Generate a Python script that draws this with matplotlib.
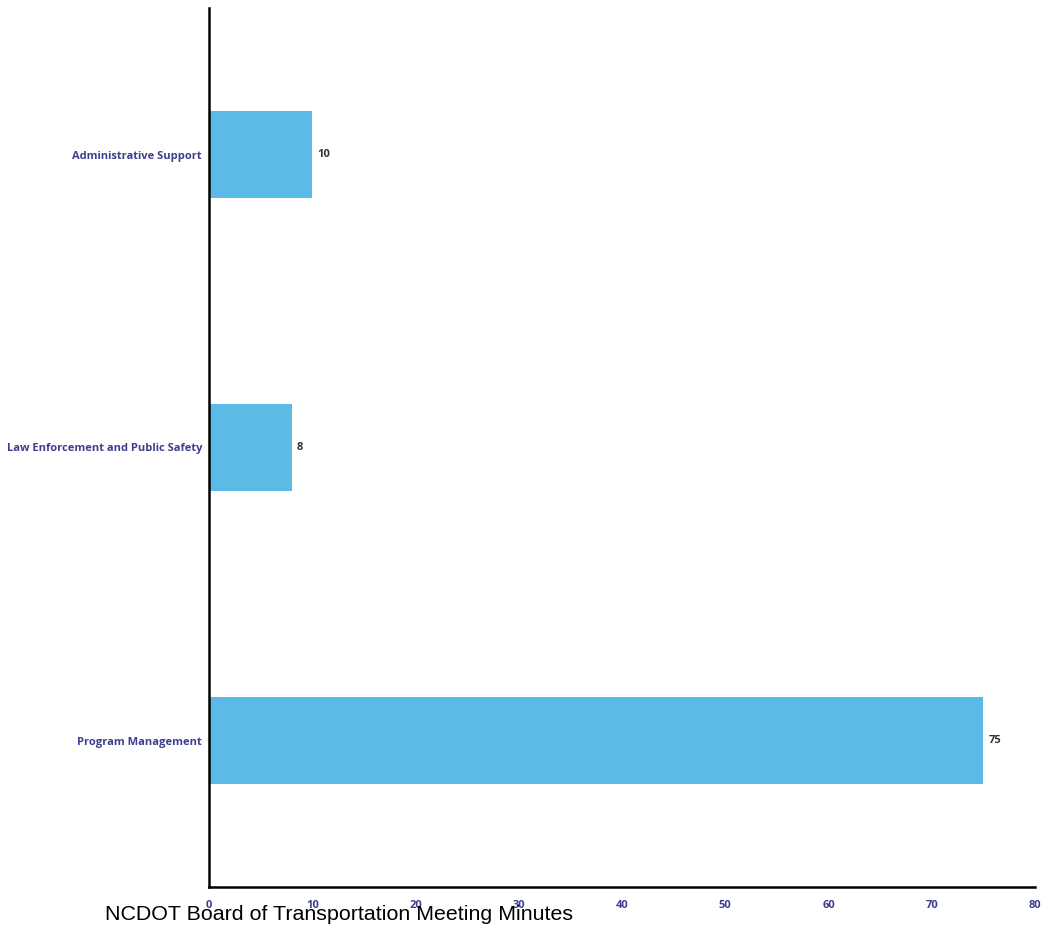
import matplotlib
matplotlib.use("Agg")
import matplotlib.pyplot as plt

# Data
categories = ["Program Management", "Law Enforcement and Public Safety", "Administrative Support"]
values = [75, 8, 10]
xticks = [0, 10, 20, 30, 40, 50, 60, 70, 80]

bar_color = "#5bbae6"
label_color = "#3e3e90"

fig = plt.figure(figsize=(10.41, 9.26), dpi=100)
ax = fig.add_axes([209 / 1041, 1 - 887 / 926, 826 / 1041, 879 / 926])

ypos = range(len(categories))
bars = ax.barh(ypos, values, height=0.3, color=bar_color)

ax.set_xlim(0, 80)
ax.set_ylim(-0.5, 2.5)
ax.set_xticks(xticks)
ax.set_yticks(list(ypos))
ax.set_yticklabels(categories)

for lab in ax.get_xticklabels() + ax.get_yticklabels():
    lab.set_fontfamily("Open Sans")
    lab.set_fontweight("bold")
    lab.set_fontsize(8)
    lab.set_color(label_color)

ax.tick_params(axis="both", length=0)
ax.tick_params(axis="x", pad=9)
ax.tick_params(axis="y", pad=5)

for side in ["top", "right"]:
    ax.spines[side].set_visible(False)
for side in ["left", "bottom"]:
    ax.spines[side].set_linewidth(1.8)
    ax.spines[side].set_color("black")

# value labels at the end of each bar
for rect, v in zip(bars, values):
    ax.text(rect.get_width() + 0.5, rect.get_y() + rect.get_height() / 2, str(v),
            va="center", ha="left", fontsize=8, fontweight="bold",
            family="Open Sans", color="#333333")

fig.text(105 / 1041, 1 - 914 / 926, "NCDOT Board of Transportation Meeting Minutes",
         fontsize=15.4, family="Liberation Sans", color="black", va="center", ha="left")

fig.savefig("out.png", dpi=100)
